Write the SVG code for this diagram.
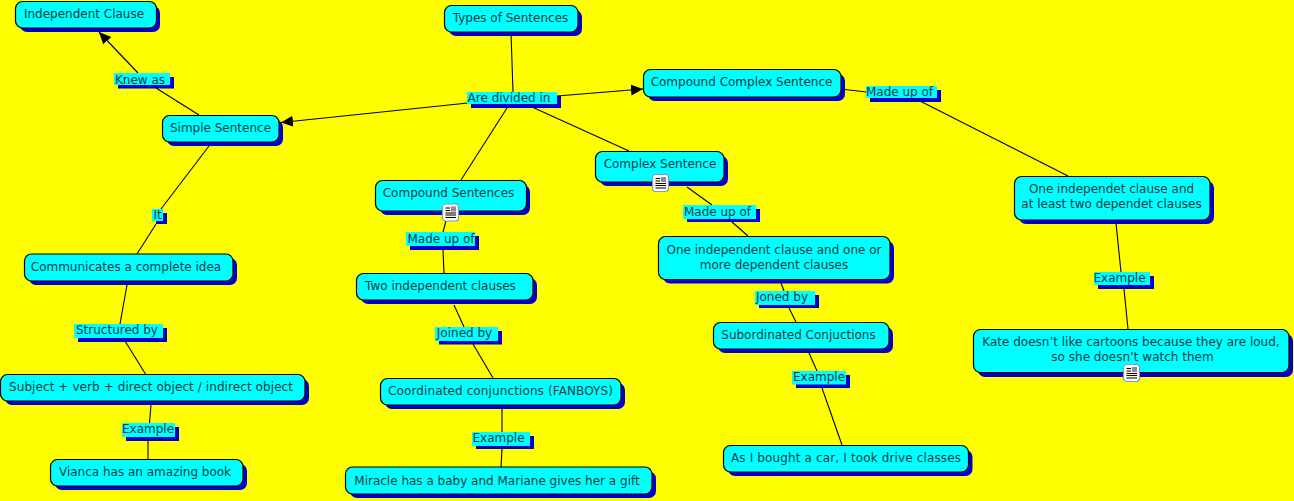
<svg xmlns="http://www.w3.org/2000/svg" width="1294" height="501" viewBox="0 0 1294 501">
<style>
text{font-family:"DejaVu Sans","Liberation Sans",sans-serif;font-size:12px;fill:#003c46;text-anchor:middle}
.c{fill:none;stroke:#000;stroke-width:1.1}
.s{fill:#0000d0}
.b{fill:#0ff;stroke:#000;stroke-width:1.2}
.l{fill:#0ff}
</style>
<defs>
<marker id="a" markerUnits="userSpaceOnUse" markerWidth="14" markerHeight="12" refX="12" refY="5.500" orient="auto"><path d="M0 0L12 5.500L0 11Z" fill="#000"/></marker>
<g id="doc"><rect x="0.500" y="0.500" width="16" height="17" rx="3" fill="#fff" stroke="#7d9cc0" stroke-width="1.200"/><rect x="3" y="3" width="11" height="12" fill="#fdf8d8"/><path d="M3.500 4.500H8M3.500 7H8M3.500 9.500H14M3.500 11.500H14M3.500 14H14" stroke="#000" stroke-width="1"/><rect x="9" y="3" width="5" height="5" fill="#8a8aa8"/></g>
</defs>
<rect width="1294" height="501" fill="#ff0"/>
<g id="connectors">
<path class="c" d="M199 115L156 88"/><path class="c" d="M138 73L99 32" marker-end="url(#a)"/>
<path class="c" d="M511 32L513 92"/>
<path class="c" d="M468 103L281 122.500" marker-end="url(#a)"/>
<path class="c" d="M557 96L643 89" marker-end="url(#a)"/>
<path class="c" d="M507 108L461 180"/>
<path class="c" d="M532 107L629 151"/>
<path class="c" d="M841 89L866 92"/><path class="c" d="M920 101L1068 176"/>
<path class="c" d="M209 146L161 209"/><path class="c" d="M156 224L137 254"/>
<path class="c" d="M127 285L120 324"/><path class="c" d="M125 341L145.500 374"/>
<path class="c" d="M151 405L149.500 423"/><path class="c" d="M148 441L148 459"/>
<path class="c" d="M446 221L443 232"/><path class="c" d="M443 250L444 273"/>
<path class="c" d="M454 305L464 327"/><path class="c" d="M473 344L493 378"/>
<path class="c" d="M502 409L502 432"/><path class="c" d="M502 449L501 467"/>
<path class="c" d="M687 187L712 205"/><path class="c" d="M732 222L748 236"/>
<path class="c" d="M781 283L784 291"/><path class="c" d="M789 308L796 322"/>
<path class="c" d="M809 353L817 371"/><path class="c" d="M822 388L842 445"/>
<path class="c" d="M1116 223L1121 272"/><path class="c" d="M1124 289L1128 329"/>
</g>
<g id="n1"><rect class="s" x="20" y="6" width="140" height="26" rx="7"/><rect class="b" x="15.500" y="1.500" width="141" height="26.500" rx="7"/><text x="84" y="18">Independent Clause</text></g>
<g id="n2"><rect class="s" x="167" y="120" width="116" height="26" rx="7"/><rect class="b" x="162.500" y="115.500" width="116.500" height="26.500" rx="7"/><text x="220.500" y="132">Simple Sentence</text></g>
<g id="n3"><rect class="s" x="449" y="10" width="133" height="26" rx="7"/><rect class="b" x="444.500" y="5.500" width="133.500" height="26.500" rx="7"/><text x="510.500" y="22">Types of Sentences</text></g>
<g id="n4"><rect class="s" x="648" y="74" width="197" height="27" rx="7"/><rect class="b" x="643.500" y="69.500" width="197.500" height="27.500" rx="7"/><text x="741.500" y="86">Compound Complex Sentence</text></g>
<g id="n5"><rect class="s" x="600" y="156" width="128" height="30" rx="7"/><rect class="b" x="595.500" y="151.500" width="128.500" height="30.500" rx="7"/><text x="660" y="168">Complex Sentence</text></g>
<g id="n6"><rect class="s" x="380" y="185" width="150" height="30" rx="7"/><rect class="b" x="375.500" y="180.500" width="151" height="30.500" rx="7"/><text x="448.500" y="197">Compound Sentences</text></g>
<g id="n7"><rect class="s" x="1019" y="181" width="195" height="43" rx="7"/><rect class="b" x="1014.500" y="176.500" width="195.500" height="43.500" rx="7"/><text x="1111.500" y="193">One independet clause and</text><text x="1111.500" y="208">at least two dependet clauses</text></g>
<g id="n8"><rect class="s" x="29" y="258" width="208" height="27" rx="7"/><rect class="b" x="24.500" y="254" width="208.500" height="27" rx="7"/><text x="126" y="271">Communicates a complete idea</text></g>
<g id="n9"><rect class="s" x="361" y="278" width="176" height="26" rx="7"/><rect class="b" x="356.500" y="273.500" width="176.500" height="26.500" rx="7"/><text x="440.500" y="290">Two independent clauses</text></g>
<g id="n10"><rect class="s" x="663" y="241" width="231" height="42.500" rx="7"/><rect class="b" x="658.500" y="236.500" width="231.500" height="43" rx="7"/><text x="774" y="254">One independent clause and one or</text><text x="774" y="269">more dependent clauses</text></g>
<g id="n11"><rect class="s" x="718" y="327" width="175" height="26" rx="7"/><rect class="b" x="713.500" y="322.500" width="175.500" height="26.500" rx="7"/><text x="798.500" y="339">Subordinated Conjuctions</text></g>
<g id="n12"><rect class="s" x="978" y="334" width="315" height="43" rx="7"/><rect class="b" x="973.500" y="329.500" width="315.500" height="43" rx="7"/><text x="1131" y="346">Kate doesn’t like cartoons because they are loud,</text><text x="1132.500" y="361">so she doesn’t watch them</text></g>
<g id="n13"><rect class="s" x="5" y="379" width="304" height="26" rx="7"/><rect class="b" x="0.500" y="374.500" width="304.500" height="26.500" rx="7"/><text x="151" y="391" textLength="284">Subject + verb + direct object / indirect object</text></g>
<g id="n14"><rect class="s" x="385" y="383" width="240" height="26" rx="7"/><rect class="b" x="380.500" y="378.500" width="240.500" height="26.500" rx="7"/><text x="500.500" y="395" textLength="225">Coordinated conjunctions (FANBOYS)</text></g>
<g id="n15"><rect class="s" x="55" y="464" width="192" height="26" rx="7"/><rect class="b" x="50.500" y="459.500" width="192.500" height="26.500" rx="7"/><text x="145" y="476">Vianca has an amazing book</text></g>
<g id="n16"><rect class="s" x="350" y="471.500" width="306" height="26.500" rx="7"/><rect class="b" x="345.500" y="467" width="306.500" height="27" rx="7"/><text x="497" y="485">Miracle has a baby and Mariane gives her a gift</text></g>
<g id="n17"><rect class="s" x="728" y="450" width="244.500" height="26" rx="7"/><rect class="b" x="723.500" y="445.500" width="245" height="26.500" rx="7"/><text x="846" y="462" textLength="230">As I bought a car, I took drive classes</text></g>
<use href="#doc" x="652" y="174"/><use href="#doc" x="442" y="203.500"/><use href="#doc" x="1123" y="364"/>
<g id="l1"><rect class="s" x="118" y="77" width="56" height="11.500"/><rect class="l" x="114" y="73" width="56" height="12"/><text x="140" y="84">Knew as</text></g>
<g id="l2"><rect class="s" x="471" y="96" width="90" height="12"/><rect class="l" x="467" y="92" width="90" height="12"/><text x="509" y="102">Are divided in</text></g>
<g id="l3"><rect class="s" x="870" y="90" width="71" height="12"/><rect class="l" x="866" y="86" width="71" height="12"/><text x="899.500" y="96">Made up of</text></g>
<g id="l4"><rect class="s" x="156" y="213" width="11" height="11"/><rect class="l" x="152" y="209" width="11" height="12"/><text x="157.500" y="219">It</text></g>
<g id="l5"><rect class="s" x="78" y="328" width="89" height="14"/><rect class="l" x="74" y="324" width="89" height="14"/><text x="117" y="334">Structured by</text></g>
<g id="l6"><rect class="s" x="410" y="236" width="69" height="14"/><rect class="l" x="406" y="232" width="69" height="14"/><text x="441" y="243">Made up of</text></g>
<g id="l7"><rect class="s" x="439" y="331" width="63" height="13.500"/><rect class="l" x="435" y="327" width="63" height="14"/><text x="464.500" y="337">Joined by</text></g>
<g id="l8"><rect class="s" x="687" y="209" width="73" height="13"/><rect class="l" x="683" y="205" width="73" height="14"/><text x="717.500" y="216">Made up of</text></g>
<g id="l9"><rect class="s" x="759" y="295" width="60" height="13"/><rect class="l" x="755" y="291" width="60" height="14"/><text x="782" y="301">Joned by</text></g>
<g id="l10"><rect class="s" x="126" y="427" width="53" height="14"/><rect class="l" x="122" y="423" width="53" height="14"/><text x="148" y="433">Example</text></g>
<g id="l11"><rect class="s" x="476" y="436" width="58" height="13"/><rect class="l" x="472" y="432" width="58" height="14"/><text x="498.500" y="442">Example</text></g>
<g id="l12"><rect class="s" x="796" y="375" width="54" height="13"/><rect class="l" x="792" y="371" width="54" height="13.500"/><text x="819" y="381">Example</text></g>
<g id="l13"><rect class="s" x="1098" y="276" width="56" height="13"/><rect class="l" x="1094" y="272" width="56" height="13"/><text x="1119.500" y="282">Example</text></g>
</svg>
